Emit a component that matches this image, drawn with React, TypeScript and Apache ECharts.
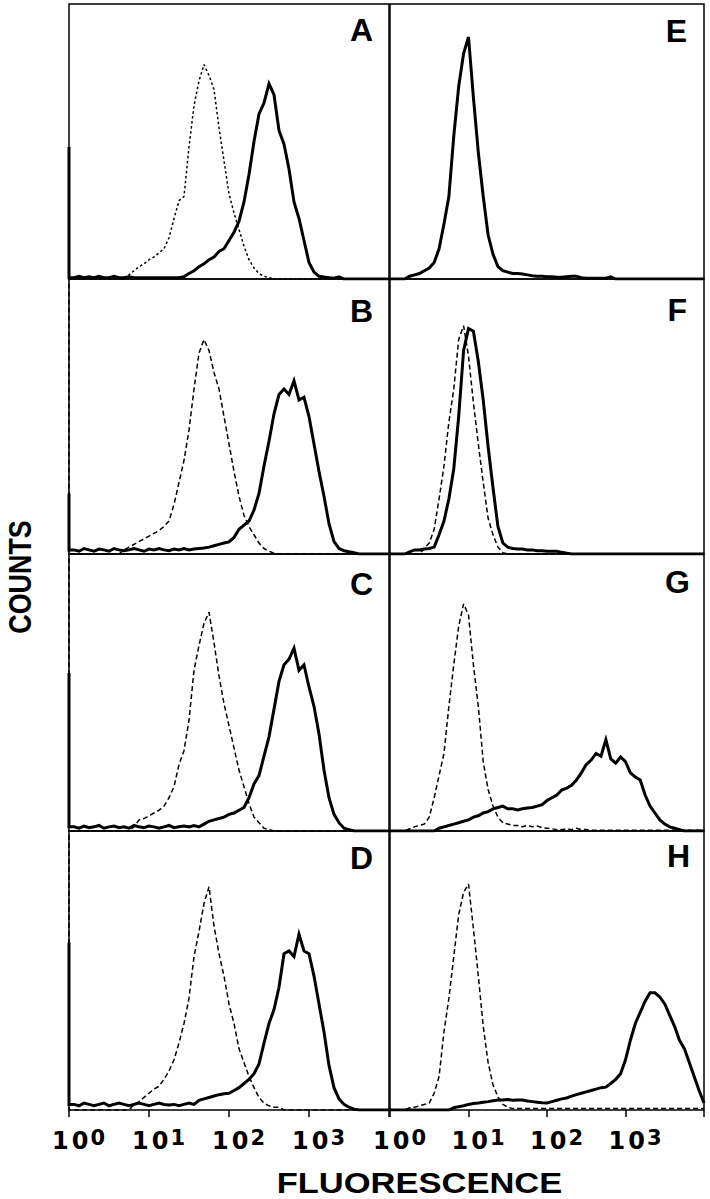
import React, { useEffect, useRef } from 'react';
import * as echarts from 'echarts';

// fluorescence value of each histogram channel (16 channels per decade)
const channels = [
  1, 1.155, 1.334, 1.54, 1.778, 2.054, 2.371, 2.738, 3.162, 3.652, 4.217, 4.87, 5.623, 6.494, 7.499, 8.66,
  10, 11.55, 13.34, 15.4, 17.78, 20.54, 23.71, 27.38, 31.62, 36.52, 42.17, 48.7, 56.23, 64.94, 74.99, 86.6,
  100, 115.5, 133.4, 154, 177.8, 205.4, 237.1, 273.8, 316.2, 365.2, 421.7, 487, 562.3, 649.4, 749.9, 866,
  1000, 1155, 1334, 1540, 1778, 2054, 2371, 2738, 3162, 3652, 4217, 4870, 5623, 6494, 7499, 8660,
  10000,
];

// counts (% of panel height), channel 0 first
const solidA = [48,
  0.5, 1, 0.5, 0.8, 0.5, 1, 0.5, 0.5, 1, 0.5,
  0.5, 0.8, 0.5, 0.5, 0.5, 0.5, 0.5, 0.5, 0.5, 0.5,
  0.5, 0.5, 0.8, 2, 3, 4.5, 5.5, 7, 8, 10,
  11, 14, 17, 21, 28, 38, 50, 60, 64, 71,
  67, 54, 49, 40, 28, 22, 14, 6, 2.5, 1,
  0.7, 0.5, 0.3, 0.8, 0, 0, 0, 0, 0, 0,
  0, 0, 0, 0];
const dashA = [0,
  0, 0, 0, 0, 0, 0, 0, 0, 0, 0,
  0.5, 1.5, 3, 4.5, 5.5, 7, 8, 9.5, 11, 15,
  22, 28.5, 30, 48, 63, 72, 78, 74, 69, 55,
  43, 31, 24, 18, 12, 7, 4, 2, 1, 0.5,
  0, 0, 0, 0, 0, 0, 0, 0, 0, 0,
  0, 0, 0, 0, 0, 0, 0, 0, 0, 0,
  0, 0, 0, 0];
const solidB = [22,
  1.5, 1, 2, 1.5, 1, 1.8, 1.5, 1, 2, 1.5,
  1.2, 1.5, 2, 1.5, 1, 1.8, 1.5, 2, 1.5, 1.2,
  1.8, 1.5, 2, 1.5, 1.8, 2, 2.2, 2.5, 3, 3.5,
  4, 4.4, 6, 9, 10.5, 12, 16, 22, 32, 41,
  51, 58, 60, 58, 63, 56, 57, 50, 40, 30,
  21, 11, 4.5, 2, 1.2, 0.8, 0.5, 0, 0, 0,
  0, 0, 0, 0];
const dashB = [110,
  0, 0, 0, 0, 0, 0, 0, 0, 0, 0,
  1.5, 2.5, 3.5, 4.5, 5.5, 6.5, 7.5, 8.5, 10, 12,
  18, 26, 34, 45, 60, 73, 78, 74, 66, 60,
  50, 40, 30, 21, 14, 10, 7, 4, 2, 1,
  0.3, 0, 0, 0, 0, 0, 0, 0, 0, 0,
  0, 0, 0, 0, 0, 0, 0, 0, 0, 0,
  0, 0, 0, 0];
const solidC = [57,
  1.5, 1, 1.8, 1.2, 1.5, 2, 1, 1.5, 1.8, 1.2,
  1.5, 1, 2, 1.5, 1.2, 1.8, 1.5, 1, 1.5, 2,
  1.2, 1.5, 1.8, 1.5, 2, 1.5, 2.5, 3.5, 4, 4.5,
  5, 6, 6.5, 7.5, 8.5, 12, 17, 20, 27, 34,
  44, 54, 60, 62, 66, 58, 60, 52, 45, 35,
  22, 12, 6, 3, 1, 0.5, 0, 0, 0, 0,
  0, 0, 0, 0];
const dashC = [110,
  0, 0, 0, 0, 0, 0, 0, 0, 0, 0,
  0, 0, 1.5, 4, 4.5, 5.5, 6.5, 7.5, 9, 12,
  16, 24, 29, 40, 58, 67, 75, 79, 68, 56,
  46, 38, 30, 22, 16, 10, 5, 3, 1, 0.5,
  0, 0, 0, 0, 0, 0, 0, 0, 0, 0,
  0, 0, 0, 0, 0, 0, 0, 0, 0, 0,
  0, 0, 0, 0];
const solidD = [60,
  2, 1.5, 2.5, 2, 1.5, 2, 2.5, 1.5, 2, 2.5,
  2, 1.5, 2, 2.5, 2, 1.5, 2, 2.5, 2, 1.8,
  2, 1.5, 2, 2.5, 2, 3.5, 4, 4.5, 5, 5.5,
  5.8, 6, 7, 8, 9.5, 11, 13, 16.5, 24, 31,
  36, 44, 56, 57, 55, 63, 57, 56, 48, 38,
  28, 16, 8, 4, 2, 1, 0.3, 0, 0, 0,
  0, 0, 0, 0];
const dashD = [110,
  0, 0, 0, 0, 0, 0, 0, 0, 0, 0,
  0, 0, 2, 3, 4.5, 6, 7.5, 8.5, 11, 14,
  18, 24, 31, 40, 55, 64, 74, 80, 66, 56,
  48, 38, 31, 22, 17, 12, 8, 4.5, 2.5, 1.5,
  1, 1, 0, 0, 0, 0, 0, 0, 0, 0,
  0, 0, 0, 0, 0, 0, 0, 0, 0, 0,
  0, 0, 0, 0];
const solidE = [0,
  0, 0, 0, 1, 1.5, 2, 3, 4, 6, 11,
  20, 30, 52, 70, 82, 88, 66, 46, 30, 16,
  9, 4.5, 3, 2.5, 2, 2, 1.8, 1.5, 1.2, 1,
  1, 0.8, 0.8, 0.6, 0.6, 0.8, 1, 1, 0.5, 0.3,
  0.3, 0.3, 0.3, 0.3, 0.8, 0, 0, 0, 0, 0,
  0, 0, 0, 0, 0, 0, 0, 0, 0, 0,
  0, 0, 0, 0];
const solidF = [0,
  0, 0, 0, 0.8, 1.5, 1.5, 1.8, 2, 2.5, 7,
  12, 20, 31, 50, 74, 82, 81, 70, 56, 39,
  24, 10, 4, 2.5, 2, 1.8, 1.8, 1.5, 1.5, 1.2,
  1.2, 1, 1, 1, 0.6, 0.3, 0, 0, 0, 0,
  0, 0, 0, 0, 0, 0, 0, 0, 0, 0,
  0, 0, 0, 0, 0, 0, 0, 0, 0, 0,
  0, 0, 0, 0];
const dashF = [0,
  0, 0, 0, 0, 0, 0, 2, 4, 9, 20,
  32, 48, 60, 78, 83, 72, 55, 40, 26, 13,
  7, 2.5, 0.5, 0, 0, 0, 0, 0, 0, 0,
  0, 0, 0, 0, 0, 0, 0, 0, 0, 0,
  0, 0, 0, 0, 0, 0, 0, 0, 0, 0,
  0, 0, 0, 0, 0, 0, 0, 0, 0, 0,
  0, 0, 0, 0];
const solidG = [0,
  0, 0, 0, 0, 0, 0, 0, 0, 0, 1,
  1.5, 2, 2.5, 3, 3.5, 4, 5, 5.5, 6.5, 7,
  8, 8.5, 9, 8, 8, 7.6, 8, 8.3, 8.5, 9,
  9.5, 11, 12, 13, 14.8, 15.5, 16.5, 18.4, 21, 24,
  25.6, 28, 27, 33, 26, 24.5, 26.7, 25, 21, 19.5,
  18.4, 13, 9, 6.5, 4, 2.5, 1.5, 1, 0.5, 0,
  0, 0, 0, 0];
const dashG = [0,
  0, 0, 0, 0.8, 1.5, 2, 2.5, 5, 12, 20,
  28, 45, 60, 74, 82, 78, 60, 45, 25, 15,
  9, 5, 3, 2.5, 2, 2, 1.5, 2, 1.5, 1.8,
  1.2, 1, 0.8, 0.5, 0.5, 0.8, 0.5, 1, 0.5, 0.5,
  0.3, 0.3, 0.3, 0.3, 0.3, 0.3, 0.3, 0.3, 0.3, 0.3,
  0.3, 0.3, 0.3, 0.3, 0.3, 0.3, 0.3, 0.3, 0.3, 0.3,
  0.3, 0.3, 0.3, 0.3];
const solidH = [0,
  0, 0, 0, 0, 0, 0, 0, 0, 0, 0,
  0, 0, 0.8, 1.2, 1.5, 2, 2.3, 2.5, 2.8, 3,
  3.3, 3.6, 3.6, 3.8, 3.5, 3.6, 3.6, 3.2, 3, 2.8,
  2.6, 2.5, 3, 3.5, 4, 4.3, 5, 5.5, 6, 6.5,
  7, 7.5, 8, 8.2, 9.5, 11, 13, 18, 25, 31,
  35, 39, 42, 42, 40.5, 38, 34, 30, 25, 22,
  17, 12, 7, 2.5];
const dashH = [0,
  0, 0, 0, 0.8, 1, 1.5, 2, 2.5, 6, 12,
  28, 40, 55, 70, 78, 81, 65, 48, 30, 17,
  9, 4.7, 2, 1, 0.5, 0.5, 0.5, 0.5, 0.5, 0.5,
  0.5, 0.5, 0.5, 0.5, 0.5, 0.5, 0.5, 0.5, 0.5, 0.5,
  0.5, 0.5, 0.5, 0.5, 0.5, 0.5, 0.5, 0.5, 0.5, 0.5,
  0.5, 0.5, 0.5, 0.5, 0.5, 0.5, 0.5, 0.5, 0.5, 0.5,
  0.5, 0.5, 0.5, 0.5];

const panelLetters = ['A', 'B', 'C', 'D', 'E', 'F', 'G', 'H'];
const solidSeries = [solidA, solidB, solidC, solidD, solidE, solidF, solidG, solidH];
const dashedSeries = [dashA, dashB, dashC, dashD, null, dashF, dashG, dashH];

const tickBase = '10';
const tickExponents = ['0', '1', '2', '3'];
const xTitle = 'FLUORESCENCE';
const yTitle = 'COUNTS';

// layout
const colLeft = [69, 390];
const colWidth = [320, 314];
const rowTop = [4, 279, 554, 831];
const rowHeight = [275, 275, 277, 279];
const letterRight = [373, 373, 373, 373, 687, 687, 690, 690];
const letterCenterY = [30, 311, 584, 858, 31, 310, 582, 856];

function toData(counts: number[]) {
  const pts: number[][] = [[channels[0], counts[0]], [channels[0], counts[1]]];
  for (let i = 1; i < counts.length; i++) pts.push([channels[i], counts[i]]);
  return pts;
}

export default function App() {
  const ref = useRef<HTMLDivElement>(null);
  useEffect(() => {
    if (!ref.current) return;
    const chart = echarts.init(ref.current, null, { renderer: 'svg' });
    const grids: any[] = [];
    const xAxes: any[] = [];
    const yAxes: any[] = [];
    const series: any[] = [];
    const graphics: any[] = [];
    const baseTokens = tickBase.split('').map((c) => `{b|${c}}`).join('{gap|}');
    for (let i = 0; i < 8; i++) {
      const col = Math.floor(i / 4);
      const row = i % 4;
      const bottomRow = row === 3;
      grids.push({
        left: colLeft[col], top: rowTop[row], width: colWidth[col], height: rowHeight[row],
        show: true, borderColor: '#000', borderWidth: 1.5, backgroundColor: 'transparent',
      });
      xAxes.push({
        gridIndex: i, type: 'log', logBase: 10, min: 1, max: 10000,
        axisLine: { show: false },
        splitLine: { show: false },
        minorTick: { show: false },
        axisTick: { show: bottomRow, length: 7, lineStyle: { color: '#000', width: 1.5 } },
        axisLabel: {
          show: bottomRow,
          margin: 17,
          showMinLabel: true,
          showMaxLabel: true,
          color: '#000',
          formatter: (v: number) => {
            const e = Math.round(Math.log10(v));
            const s = tickExponents[e];
            return s === undefined ? '' : `{pad|}${baseTokens}{gap2|}{sup|${s}}`;
          },
          rich: {
            pad: { width: 19 },
            gap: { width: 3 },
            gap2: { width: 2 },
            b: { fontSize: 24, fontWeight: 'bold', fontFamily: 'DejaVu Sans', color: '#000', lineHeight: 28, verticalAlign: 'middle' },
            sup: { fontSize: 21, fontWeight: 'bold', fontFamily: 'DejaVu Sans', color: '#000', lineHeight: 14, verticalAlign: 'top' },
          },
        },
      });
      yAxes.push({ gridIndex: i, type: 'value', min: 0, max: 100, show: false });
      const dashed = dashedSeries[i];
      if (dashed) {
        series.push({
          type: 'line', xAxisIndex: i, yAxisIndex: i, data: toData(dashed),
          symbol: 'none', clip: true, z: 2,
          lineStyle: { color: '#000', width: 1.5, type: i === 0 ? [2.5, 2.5] : [5, 3] },
        });
      }
      series.push({
        type: 'line', xAxisIndex: i, yAxisIndex: i, data: toData(solidSeries[i]),
        symbol: 'none', clip: true, z: 3,
        lineStyle: { color: '#000', width: 3, join: 'miter' },
      });
      graphics.push({
        type: 'text', x: letterRight[i], y: letterCenterY[i], z: 10,
        style: {
          text: panelLetters[i], fontSize: 32, fontWeight: 'bold', fontFamily: 'Liberation Sans',
          fill: '#000', align: 'right', verticalAlign: 'middle',
        },
      });
    }
    graphics.push({
      type: 'text', x: 20, y: 577, rotation: Math.PI / 2, scaleX: 0.84, z: 10,
      style: {
        text: yTitle, fontSize: 32, fontWeight: 'bold', fontFamily: 'Liberation Sans',
        fill: '#000', align: 'center', verticalAlign: 'middle',
      },
    });
    graphics.push({
      type: 'text', x: 419.5, y: 1182.5, scaleX: 1.19, z: 10,
      style: {
        text: xTitle, fontSize: 29, fontWeight: 'bold', fontFamily: 'Liberation Sans',
        fill: '#000', align: 'center', verticalAlign: 'middle',
      },
    });
    chart.setOption({
      animation: false,
      backgroundColor: '#fff',
      grid: grids,
      xAxis: xAxes,
      yAxis: yAxes,
      series,
      graphic: graphics,
    });
    return () => chart.dispose();
  }, []);
  return <div ref={ref} style={{ position: 'absolute', left: 0, top: 0, width: 710, height: 1199 }} />;
}
